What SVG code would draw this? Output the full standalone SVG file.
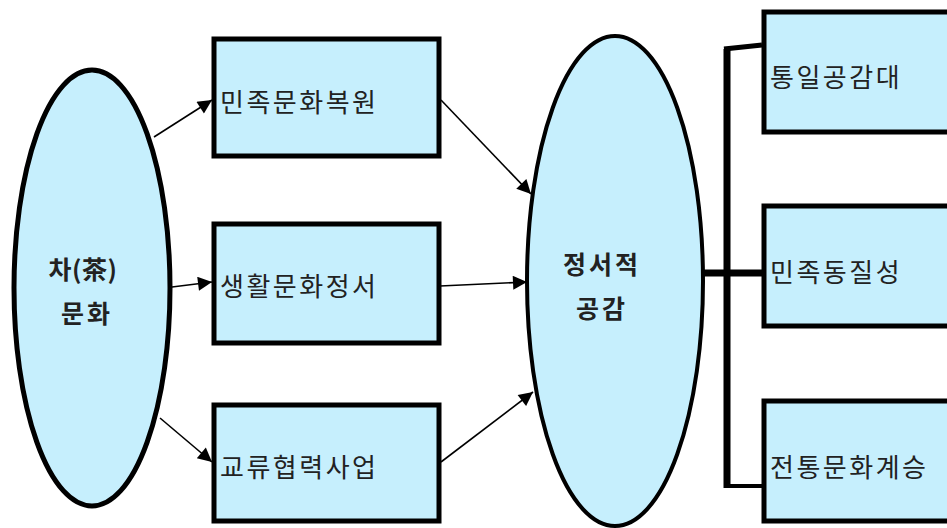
<svg xmlns="http://www.w3.org/2000/svg" width="947" height="528" viewBox="0 0 947 528">
<style>
.shape{fill:#c6effd;stroke:#000;}
.box{stroke-width:5;}
.lbl{font-family:"Noto Sans CJK KR","Noto Sans",sans-serif;font-size:26px;fill:#222;dominant-baseline:central;letter-spacing:2.5px;}
.bold{font-weight:bold;text-anchor:middle;font-size:25px;letter-spacing:3px;}
.arr{stroke:#000;stroke-width:1.6;fill:none;marker-end:url(#ah);}
.br{stroke:#000;fill:none;}
</style>
<defs>
<marker id="ah" viewBox="0 0 10 10" refX="10" refY="5" markerWidth="16" markerHeight="14" markerUnits="userSpaceOnUse" orient="auto">
<path d="M0,0 L10,5 L0,10 z" fill="#000"/>
</marker>
</defs>
<rect width="947" height="528" fill="#fff"/>
<g id="connectors">
<line class="arr" x1="154" y1="137" x2="212" y2="100"/>
<line class="arr" x1="172" y1="287" x2="212" y2="282"/>
<line class="arr" x1="160" y1="418" x2="212" y2="462"/>
<line class="arr" x1="441" y1="100" x2="531" y2="194"/>
<line class="arr" x1="440" y1="286" x2="527" y2="282"/>
<line class="arr" x1="441" y1="462" x2="533" y2="392"/>
<path class="br" d="M727,49 L727,488" stroke-width="7"/>
<path class="br" d="M724,49 L762,45" stroke-width="5"/>
<path class="br" d="M702,273 L762,273" stroke-width="7"/>
<path class="br" d="M724,486 L762,486" stroke-width="4"/>
</g>
<g id="tea-culture">
<ellipse class="shape" cx="92" cy="288" rx="78" ry="218" stroke-width="5"/>
<text class="lbl bold" x="83" y="268" style="letter-spacing:0.5px">차(茶)</text>
<text class="lbl bold" x="87" y="312">문화</text>
</g>
<g id="restore">
<rect class="shape box" x="214" y="39" width="225" height="117"/>
<text class="lbl" x="220" y="100">민족문화복원</text>
</g>
<g id="life">
<rect class="shape box" x="214" y="224" width="225" height="119"/>
<text class="lbl" x="220" y="284">생활문화정서</text>
</g>
<g id="exchange">
<rect class="shape box" x="214" y="405" width="225" height="116"/>
<text class="lbl" x="220" y="465">교류협력사업</text>
</g>
<g id="empathy">
<ellipse class="shape" cx="615" cy="281" rx="88" ry="245" stroke-width="4"/>
<text class="lbl bold" x="602" y="263">정서적</text>
<text class="lbl bold" x="602" y="307">공감</text>
</g>
<g id="unify">
<rect class="shape box" x="764" y="12" width="200" height="120"/>
<text class="lbl" x="770" y="75">통일공감대</text>
</g>
<g id="homogeneity">
<rect class="shape box" x="764" y="206" width="200" height="120"/>
<text class="lbl" x="770" y="270">민족동질성</text>
</g>
<g id="tradition">
<rect class="shape box" x="764" y="401" width="200" height="120"/>
<text class="lbl" x="770" y="465">전통문화계승</text>
</g>
</svg>
